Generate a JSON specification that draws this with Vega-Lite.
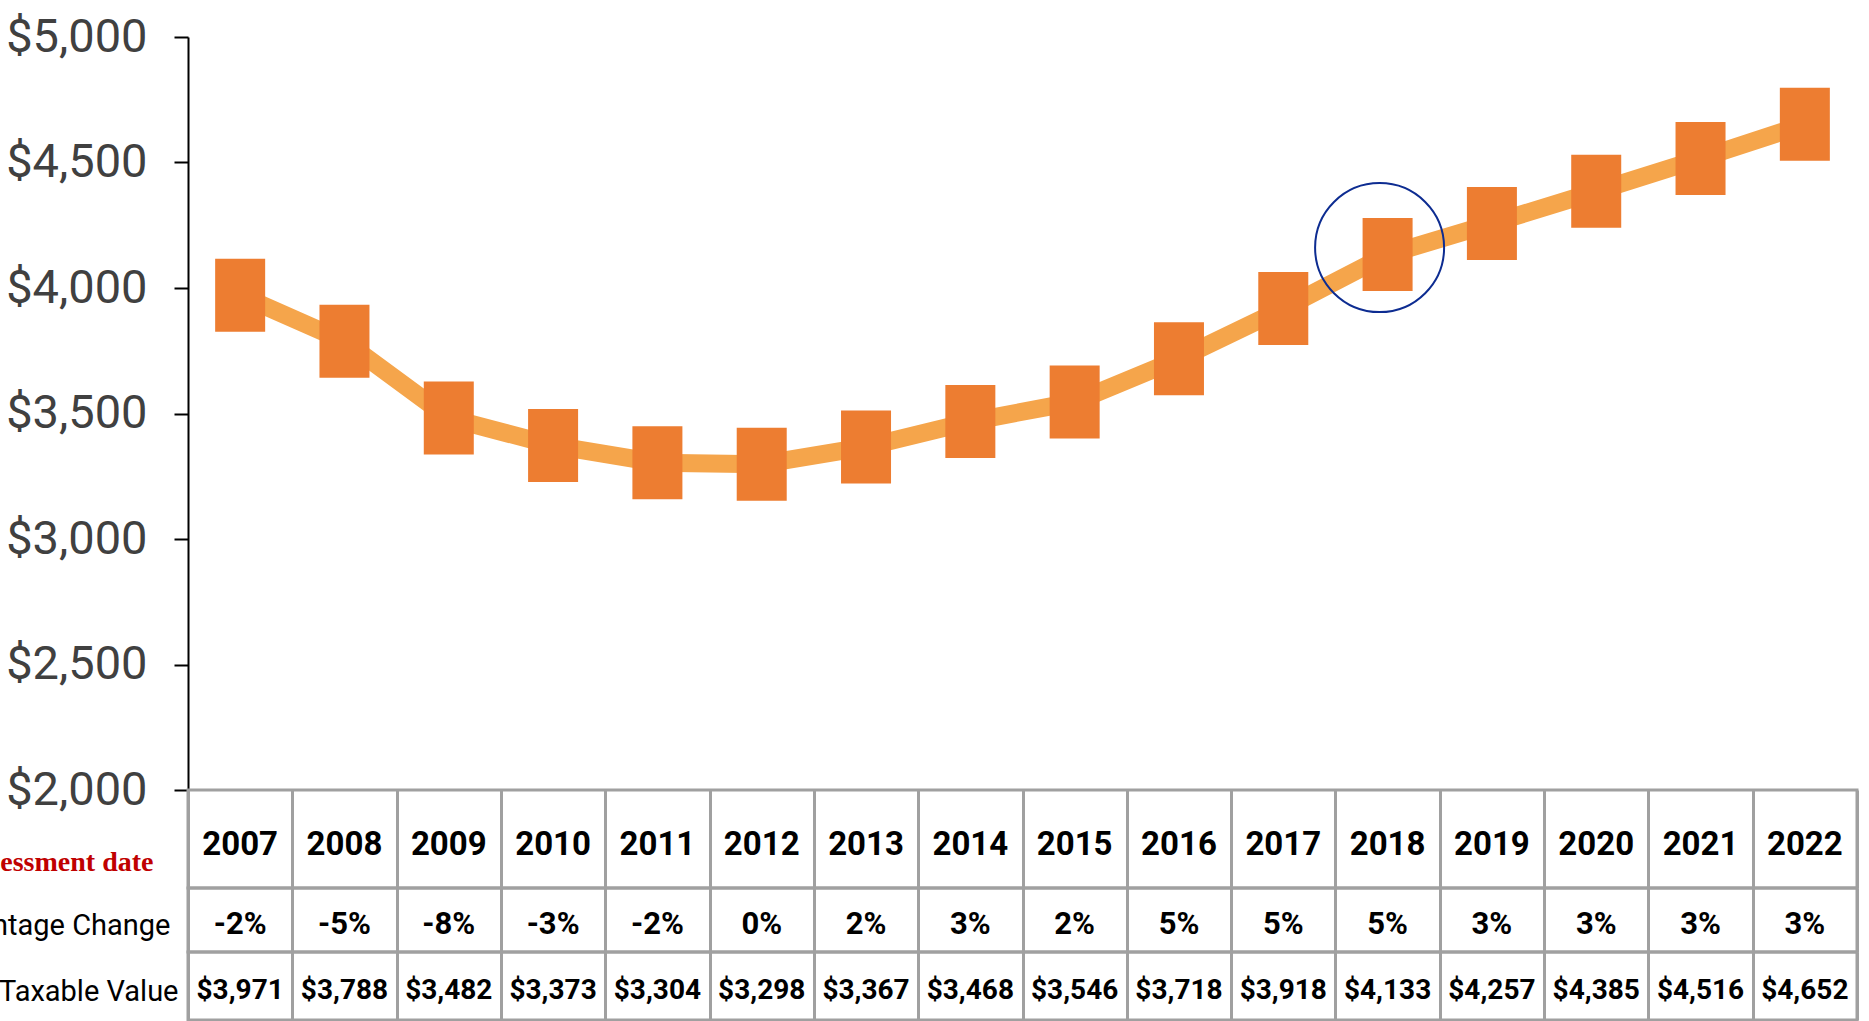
{
  "$schema": "https://vega.github.io/schema/vega-lite/v6.json",
  "autosize": {"type": "none"},
  "padding": {"left": 188, "top": 37, "right": 1681, "bottom": 984},
  "background": "white",
  "config": {
    "locale": {"number": {"decimal": ".", "thousands": ",", "grouping": [3], "currency": ["$", ""], "minus": "-"}},
    "view": {"stroke": "#a0a0a0", "strokeWidth": 3},
    "font": "Roboto"
  },
  "datasets": {
    "tax": [
      {"year": "2007", "value": 3971, "pct": -0.02},
      {"year": "2008", "value": 3788, "pct": -0.05},
      {"year": "2009", "value": 3482, "pct": -0.08},
      {"year": "2010", "value": 3373, "pct": -0.03},
      {"year": "2011", "value": 3304, "pct": -0.02},
      {"year": "2012", "value": 3298, "pct": 0},
      {"year": "2013", "value": 3367, "pct": 0.02},
      {"year": "2014", "value": 3468, "pct": 0.03},
      {"year": "2015", "value": 3546, "pct": 0.02},
      {"year": "2016", "value": 3718, "pct": 0.05},
      {"year": "2017", "value": 3918, "pct": 0.05},
      {"year": "2018", "value": 4133, "pct": 0.05},
      {"year": "2019", "value": 4257, "pct": 0.03},
      {"year": "2020", "value": 4385, "pct": 0.03},
      {"year": "2021", "value": 4516, "pct": 0.03},
      {"year": "2022", "value": 4652, "pct": 0.03}
    ]
  },
  "spacing": 0,
  "bounds": "flush",
  "vconcat": [
    {
      "width": 1669,
      "height": 753,
      "data": {"name": "tax"},
      "view": {"stroke": null},
      "encoding": {
        "x": {"field": "year", "type": "ordinal", "scale": {"type": "band", "paddingInner": 0, "paddingOuter": 0}, "axis": null},
        "y": {
          "field": "value", "type": "quantitative",
          "scale": {"domain": [2000, 5000], "nice": false, "zero": false},
          "axis": {
            "values": [2000, 2500, 3000, 3500, 4000, 4500, 5000],
            "format": "$,.0f",
            "title": null,
            "grid": false,
            "labelFont": "Roboto",
            "labelFontSize": 47,
            "labelColor": "#404040",
            "labelPadding": 27,
            "labelFlush": false,
            "labelOverlap": false,
            "tickSize": 14,
            "tickColor": "black",
            "tickWidth": 2,
            "domainColor": "black",
            "domainWidth": 2
          }
        }
      },
      "layer": [
        {"mark": {"type": "line", "color": "#F5A54B", "strokeWidth": 18}},
        {"mark": {"type": "point", "shape": "M-0.685,-1H0.685V1H-0.685Z", "size": 5329, "filled": true, "fill": "#ED7D31", "opacity": 1, "strokeWidth": 0}},
        {
          "transform": [{"filter": "datum.year == '2018'"}],
          "mark": {"type": "point", "shape": "circle", "size": 16641, "filled": false, "stroke": "#0D2C91", "strokeWidth": 2, "opacity": 1, "xOffset": -8, "yOffset": -7}
        }
      ]
    },
    {
      "width": 1669,
      "height": 98,
      "data": {"name": "tax"},
      "mark": {"type": "text", "fontSize": 33, "fontWeight": "bold", "color": "black", "dy": 6},
      "encoding": {
        "x": {"field": "year", "type": "ordinal", "scale": {"type": "band", "paddingInner": 0, "paddingOuter": 0},
              "axis": {"grid": true, "tickBand": "extent", "gridColor": "#a0a0a0", "gridWidth": 3, "labels": false, "ticks": false, "domain": false, "title": null}},
        "y": {"datum": "Assessment date", "type": "nominal",
              "axis": {"title": null, "domain": false, "ticks": false, "labelFont": "Liberation Serif", "labelFontWeight": "bold", "labelColor": "#C00000", "labelFontSize": 28, "labelPadding": 35, "labelOffset": 23, "labelLimit": 1000}},
        "text": {"field": "year"}
      }
    },
    {
      "width": 1669,
      "height": 64,
      "data": {"name": "tax"},
      "mark": {"type": "text", "fontSize": 31, "fontWeight": "bold", "color": "black", "dy": 5},
      "encoding": {
        "x": {"field": "year", "type": "ordinal", "scale": {"type": "band", "paddingInner": 0, "paddingOuter": 0},
              "axis": {"grid": true, "tickBand": "extent", "gridColor": "#a0a0a0", "gridWidth": 3, "labels": false, "ticks": false, "domain": false, "title": null}},
        "y": {"datum": "Percentage Change", "type": "nominal",
              "axis": {"title": null, "domain": false, "ticks": false, "labelColor": "black", "labelFont": "Roboto", "labelFontSize": 29, "labelPadding": 18, "labelOffset": 5, "labelLimit": 1000}},
        "text": {"field": "pct", "type": "quantitative", "format": ".0%"}
      }
    },
    {
      "width": 1669,
      "height": 68,
      "data": {"name": "tax"},
      "mark": {"type": "text", "fontSize": 28, "fontWeight": "bold", "color": "black", "dy": 5},
      "encoding": {
        "x": {"field": "year", "type": "ordinal", "scale": {"type": "band", "paddingInner": 0, "paddingOuter": 0},
              "axis": {"grid": true, "tickBand": "extent", "gridColor": "#a0a0a0", "gridWidth": 3, "labels": false, "ticks": false, "domain": false, "title": null}},
        "y": {"datum": "Average Taxable Value", "type": "nominal",
              "axis": {"title": null, "domain": false, "ticks": false, "labelColor": "black", "labelFont": "Roboto", "labelFontSize": 29, "labelPadding": 10, "labelOffset": 5, "labelLimit": 1000}},
        "text": {"field": "value", "type": "quantitative", "format": "$,.0f"}
      }
    }
  ]
}
